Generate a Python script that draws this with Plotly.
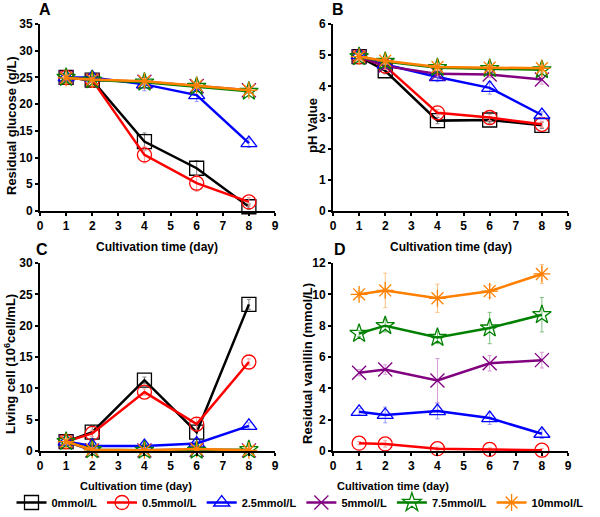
import plotly.graph_objects as go
from plotly.subplots import make_subplots

days = [1, 2, 4, 6, 8]
series_names = ["0mmol/L", "0.5mmol/L", "2.5mmol/L", "5mmol/L", "7.5mmol/L", "10mmol/L"]

# panel A - residual glucose (g/L)
glucose = [
    [25.0, 24.5, 13.0, 8.0, 0.8],
    [25.0, 24.5, 10.5, 5.2, 1.7],
    [25.0, 25.0, 23.7, 21.7, 12.7],
    [25.0, 24.5, 24.2, 23.4, 22.6],
    [25.0, 24.5, 24.1, 23.3, 22.4],
    [24.9, 24.6, 24.3, 23.5, 22.6],
]
glucose_err = [
    [0.3, 0.3, 1.6, 1.4, 0.5],
    [0.3, 0.3, 1.5, 1.5, 0.8],
    [0.5, 0.3, 1.2, 1.2, 0.8],
    [0.3, 0.3, 0.5, 0.4, 0.4],
    [0.3, 0.3, 0.5, 0.4, 0.4],
    [0.3, 0.3, 0.5, 0.4, 0.4],
]

# panel B - pH
ph = [
    [4.95, 4.50, 2.90, 2.92, 2.75],
    [4.95, 4.65, 3.15, 3.00, 2.78],
    [5.00, 4.70, 4.30, 3.95, 3.08],
    [4.95, 4.65, 4.40, 4.38, 4.22],
    [4.95, 4.80, 4.60, 4.57, 4.53],
    [4.95, 4.82, 4.62, 4.60, 4.58],
]
ph_err = [
    [0.10, 0.10, 0.10, 0.10, 0.10],
    [0.10, 0.10, 0.10, 0.10, 0.10],
    [0.10, 0.10, 0.15, 0.20, 0.10],
    [0.10, 0.10, 0.10, 0.10, 0.15],
    [0.10, 0.10, 0.10, 0.10, 0.10],
    [0.10, 0.10, 0.10, 0.10, 0.10],
]

# panel C - living cell (10^6 cell/mL)
cells = [
    [1.5, 3.0, 11.3, 3.0, 23.4],
    [1.5, 2.8, 9.4, 4.3, 14.2],
    [1.5, 0.8, 0.8, 1.2, 4.0],
    [1.5, 0.1, 0.1, 0.2, 0.1],
    [1.5, 0.2, 0.1, 0.1, 0.2],
    [1.5, 0.2, 0.1, 0.3, 0.1],
]
cells_err = [
    [0.3, 1.0, 0.5, 1.5, 0.8],
    [0.3, 0.5, 0.5, 1.0, 0.5],
    [0.3, 0.3, 0.3, 0.3, 0.5],
    [0.3, 0.1, 0.1, 0.1, 0.1],
    [0.3, 0.1, 0.1, 0.1, 0.6],
    [0.3, 0.1, 0.1, 0.1, 0.3],
]

# panel D - residual vanillin (mmol/L), no 0mmol/L series
vanillin = [
    None,
    [0.50, 0.45, 0.15, 0.10, 0.05],
    [2.50, 2.30, 2.55, 2.10, 1.10],
    [5.00, 5.20, 4.50, 5.60, 5.80],
    [7.50, 8.00, 7.25, 7.85, 8.70],
    [10.00, 10.25, 9.75, 10.20, 11.30],
]
vanillin_err = [
    None,
    [0.1, 0.2, 0.1, 0.1, 0.1],
    [0.2, 0.5, 0.5, 0.4, 0.3],
    [0.2, 0.3, 1.4, 0.5, 0.5],
    [0.2, 0.4, 0.4, 1.0, 1.1],
    [0.2, 1.1, 0.9, 0.4, 0.6],
]

colors = ["#000000", "#ff0000", "#0000ff", "#800080", "#008000", "#ff8000"]
err_colors = ["#808080", "#ff9999", "#9999ff", "#d699d6", "#80c080", "#ffc080"]
symbols = ["square-open", "circle-open", "triangle-up-open", "x-thin-open", "star-open", "asterisk-open"]

FONT = "Liberation Sans"

fig = make_subplots(rows=2, cols=2)

panels = [(glucose, glucose_err, 1, 1), (ph, ph_err, 1, 2), (cells, cells_err, 2, 1), (vanillin, vanillin_err, 2, 2)]
for p, (vals, errs, r, c) in enumerate(panels):
    for i, name in enumerate(series_names):
        if vals[i] is None:
            continue
        fig.add_trace(go.Scatter(
            x=days, y=vals[i], name=name, legendgroup=name, showlegend=(p == 0),
            mode="lines+markers",
            line=dict(color=colors[i], width=2.5),
            marker=dict(symbol=symbols[i], size=14, color=colors[i], line=dict(width=1.3, color=colors[i])),
            error_y=dict(type="data", array=errs[i], color=err_colors[i], thickness=1, width=2),
            cliponaxis=False,
        ), row=r, col=c)

xd_left = [40 / 600, 275 / 600]
xd_right = [333 / 600, 568 / 600]
yd_top = [1 - 211 / 517, 1 - 24 / 517]
yd_bot = [1 - 451 / 517, 1 - 263 / 517]

axis_style = dict(showline=True, linecolor="black", linewidth=2, showgrid=False, zeroline=False,
                  ticks="outside", ticklen=3, tickwidth=2, tickcolor="black", automargin=False,
                  tickfont=dict(family=FONT, size=12, color="black", weight="bold"))

fig.update_xaxes(range=[0, 9], dtick=1, **axis_style)
fig.update_xaxes(domain=xd_left, row=1, col=1)
fig.update_xaxes(domain=xd_right, row=1, col=2)
fig.update_xaxes(domain=xd_left, row=2, col=1)
fig.update_xaxes(domain=xd_right, row=2, col=2)

fig.update_yaxes(**axis_style)
fig.update_yaxes(domain=yd_top, range=[0, 35], dtick=5, row=1, col=1)
fig.update_yaxes(domain=yd_top, range=[0, 6], dtick=1, row=1, col=2)
fig.update_yaxes(domain=yd_bot, range=[0, 30], dtick=5, row=2, col=1)
fig.update_yaxes(domain=yd_bot, range=[0, 12], dtick=2, row=2, col=2)


def label(txt, x, y, size, angle=0):
    return dict(text="<b>%s</b>" % txt, x=x / 600, y=1 - y / 517, xref="paper", yref="paper",
                xanchor="center", yanchor="middle", textangle=angle, showarrow=False,
                font=dict(family=FONT, size=size, color="black"))


ann = []
# panel letters
for txt, x, y in [("A", 45, 9), ("B", 338, 9), ("C", 42, 249), ("D", 340, 249)]:
    ann.append(label(txt, x, y, 16))
# x titles
for x, y, s in [(157, 247, 12), (451, 247, 12), (136, 486, 11), (393, 486, 11)]:
    ann.append(label("Cultivation time (day)", x, y, s))
# y titles
for txt, x, y in [("Residual glucose (g/L)", 11, 126), ("pH Value", 312, 126),
                  ("Living cell (10<sup>6</sup>cell/mL)", 10, 364), ("Residual vanillin (mmol/L)", 307, 364)]:
    ann.append(label(txt, x, y, 13, -90))

fig.update_layout(
    width=600, height=517,
    margin=dict(l=0, r=0, t=0, b=0),
    paper_bgcolor="white", plot_bgcolor="white",
    annotations=ann,
    showlegend=True,
    legend=dict(orientation="h", x=0.5, xanchor="center", y=0, yanchor="bottom",
                font=dict(family=FONT, size=11, color="black", weight="bold"), itemwidth=30,
                tracegroupgap=0, bgcolor="rgba(0,0,0,0)"),
)

# drop the default page margin so the figure sits at the window's corner
fig.write_html("out.html", config={"displayModeBar": False},
               post_script="document.body.style.margin='0px';")
